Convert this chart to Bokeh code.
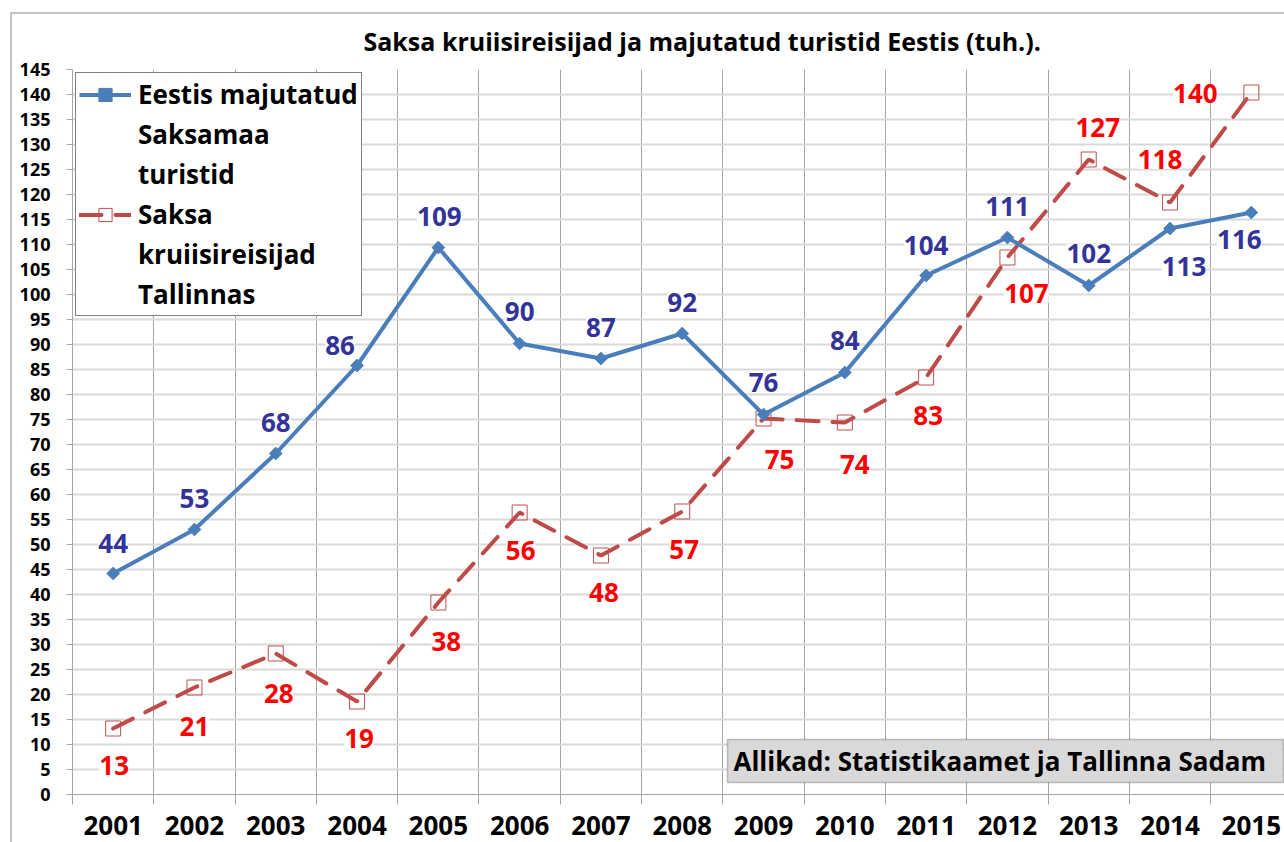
from bokeh.plotting import figure
from bokeh.models import (ColumnDataSource, FixedTicker, LabelSet, Label, Legend,
                          LegendItem, BoxAnnotation, Range1d, Title)
from bokeh.core.properties import value
from bokeh.embed import file_html
from bokeh.resources import INLINE

# ---------------- data ----------------
years = [str(y) for y in range(2001, 2016)]
hotel_guests = [44.2, 53.0, 68.2, 85.8, 109.4, 90.2, 87.2, 92.2, 76.0, 84.4,
                103.8, 111.4, 101.8, 113.2, 116.4]
cruise_passengers = [13.2, 21.4, 28.2, 18.6, 38.4, 56.4, 47.8, 56.6, 75.2, 74.4,
                     83.4, 107.4, 127.0, 118.4, 140.4]
y_ticks = list(range(0, 150, 5))

title_text = "Saksa kruiisireisijad ja majutatud turistid Eestis (tuh.)."
series_names = ["Eestis majutatud\nSaksamaa\nturistid",
                "Saksa\nkruiisireisijad\nTallinnas"]
source_text = "Allikad: Statistikaamet ja Tallinna Sadam"

# ---------------- style ----------------
FONT = "Open Sans"
BLUE_LINE = "#4A7EBB"
BLUE_TEXT = "#333399"
RED_LINE = "#BE4B48"
RED_TEXT = "#FF0000"
BORDER = "#C6C6C6"

blue_dx = [0, 0, 0, -17, 1, 0, 0, 0, 0, 0, 0, 0, 0, 14, -12]
blue_dy = [30, 31, 31, 20, 31, 32, 31, 31, 32, 32, 30, 31, 32, -38, -27]
red_dx = [1, 0, 3, 2, 8, 1, 3, 2, 16, 10, 2, 19, 9, -10, -56]
red_dy = [-37, -39, -40, -37, -39, -38, -37, -38, -41, -42, -38, -36, 32, 43, -1]

n = len(years)
xc = [i + 0.5 for i in range(n)]
bounds = [float(i) for i in range(n + 1)]

src = ColumnDataSource(dict(
    x=xc, blue=hotel_guests, red=cruise_passengers,
    blue_lbl=[f"{v:.0f}" for v in hotel_guests],
    red_lbl=[f"{v:.0f}" for v in cruise_passengers],
    bdx=blue_dx, bdy=blue_dy, rdx=red_dx, rdy=red_dy,
))

p = figure(width=1284, height=842, output_backend="svg", toolbar_location=None,
           x_range=Range1d(0, 14.908), y_range=Range1d(0, 145),
           min_border_left=72, min_border_right=0, min_border_top=69,
           min_border_bottom=48)
p.outline_line_color = None
p.background_fill_color = "white"
p.border_fill_color = None
p.styles = {
    "background-color": "white",
    "background-image": f"linear-gradient({BORDER}, {BORDER}), linear-gradient({BORDER}, {BORDER})",
    "background-size": "2px 100%, 100% 2px",
    "background-position": "10px 12px, 10px 12px",
    "background-repeat": "no-repeat",
}

# title
p.title.text = title_text
p.title.align = "left"
p.title.vertical_align = "bottom"
p.title.offset = 291
p.title.standoff = 10
p.title.text_font = FONT
p.title.text_font_style = "bold"
p.title.text_font_size = "25px"
p.title.text_color = "black"
# small spacer between the frame and the title
p.add_layout(Title(text=" ", text_font_size="4px", standoff=0), "above")

# axes
xa = p.xaxis[0]
xa.ticker = FixedTicker(ticks=xc, minor_ticks=bounds)
xa.major_label_overrides = {x: y for x, y in zip(xc, years)}
xa.major_tick_line_color = None
xa.major_tick_out = 0
xa.major_tick_in = 0
xa.major_label_standoff = 11
xa.major_label_text_font = FONT
xa.major_label_text_font_style = "bold"
xa.major_label_text_font_size = "26px"
xa.major_label_text_color = "black"
xa.minor_tick_out = 10
xa.minor_tick_in = 0
xa.minor_tick_line_color = "#A6A6A6"
xa.axis_line_color = "#A6A6A6"

ya = p.yaxis[0]
ya.ticker = FixedTicker(ticks=y_ticks)
ya.major_tick_out = 6
ya.major_tick_in = 0
ya.minor_tick_line_color = None
ya.major_tick_line_color = "#A6A6A6"
ya.axis_line_color = "#A6A6A6"
ya.major_label_text_font = FONT
ya.major_label_text_font_style = "bold"
ya.major_label_text_font_size = "18px"
ya.major_label_text_color = "black"
ya.major_label_standoff = 16

# grids
p.ygrid.ticker = FixedTicker(ticks=y_ticks)
p.ygrid.grid_line_color = "#D9D9D9"
p.ygrid.grid_line_width = 2
p.xgrid.ticker = FixedTicker(ticks=bounds)
p.xgrid.grid_line_color = "#A6A6A6"
p.xgrid.grid_line_width = 1

# series
red_line = p.line("x", "red", source=src, line_color=RED_LINE, line_width=4,
                  line_dash="22 14", line_cap="round")
red_pts = p.scatter("x", "red", source=src, marker="square", size=15,
                    fill_color=None, line_color="#C0504D", line_width=1)
blue_line = p.line("x", "blue", source=src, line_color=BLUE_LINE, line_width=4)
blue_pts = p.scatter("x", "blue", source=src, marker="square", angle=0.785398,
                     size=9, fill_color=BLUE_LINE, line_color=BLUE_LINE)

# data labels
p.add_layout(LabelSet(x="x", y="red", text="red_lbl", source=src,
                      x_offset="rdx", y_offset="rdy",
                      text_align="center", text_baseline="middle",
                      text_font=value(FONT), text_font_style="bold",
                      text_font_size="26px", text_color=RED_TEXT,
                      background_fill_color="white"))
p.add_layout(LabelSet(x="x", y="blue", text="blue_lbl", source=src,
                      x_offset="bdx", y_offset="bdy",
                      text_align="center", text_baseline="middle",
                      text_font=value(FONT), text_font_style="bold",
                      text_font_size="26px", text_color=BLUE_TEXT,
                      background_fill_color="white"))

# source box
p.add_layout(BoxAnnotation(left=8.057, right=14.896, top=11.0, bottom=2.4,
                           fill_color="#D9D9D9", fill_alpha=1,
                           line_color="#404040", line_width=1.5))
p.add_layout(Label(x=8.13, y=6.7, text=source_text, text_align="left",
                   text_baseline="middle", text_font=FONT,
                   text_font_style="bold", text_font_size="26px",
                   text_color="black"))

# legend: first line of each name carries the glyph
items = []
for name, rends in zip(series_names, [[blue_line, blue_pts], [red_line, red_pts]]):
    parts = name.split("\n")
    items.append(LegendItem(label=parts[0], renderers=rends))
    for extra in parts[1:]:
        items.append(LegendItem(label=extra, renderers=[]))

legend = Legend(items=items, location="top_left", margin=3, padding=3, spacing=4,
                glyph_width=52, glyph_height=33, label_height=33, label_standoff=7,
                label_text_font=FONT, label_text_font_style="bold",
                label_text_font_size="26px", label_text_color="black",
                border_line_color="black", border_line_width=1,
                background_fill_color="white", background_fill_alpha=1)
p.add_layout(legend)

open("out.html", "w").write(file_html(p, INLINE))
